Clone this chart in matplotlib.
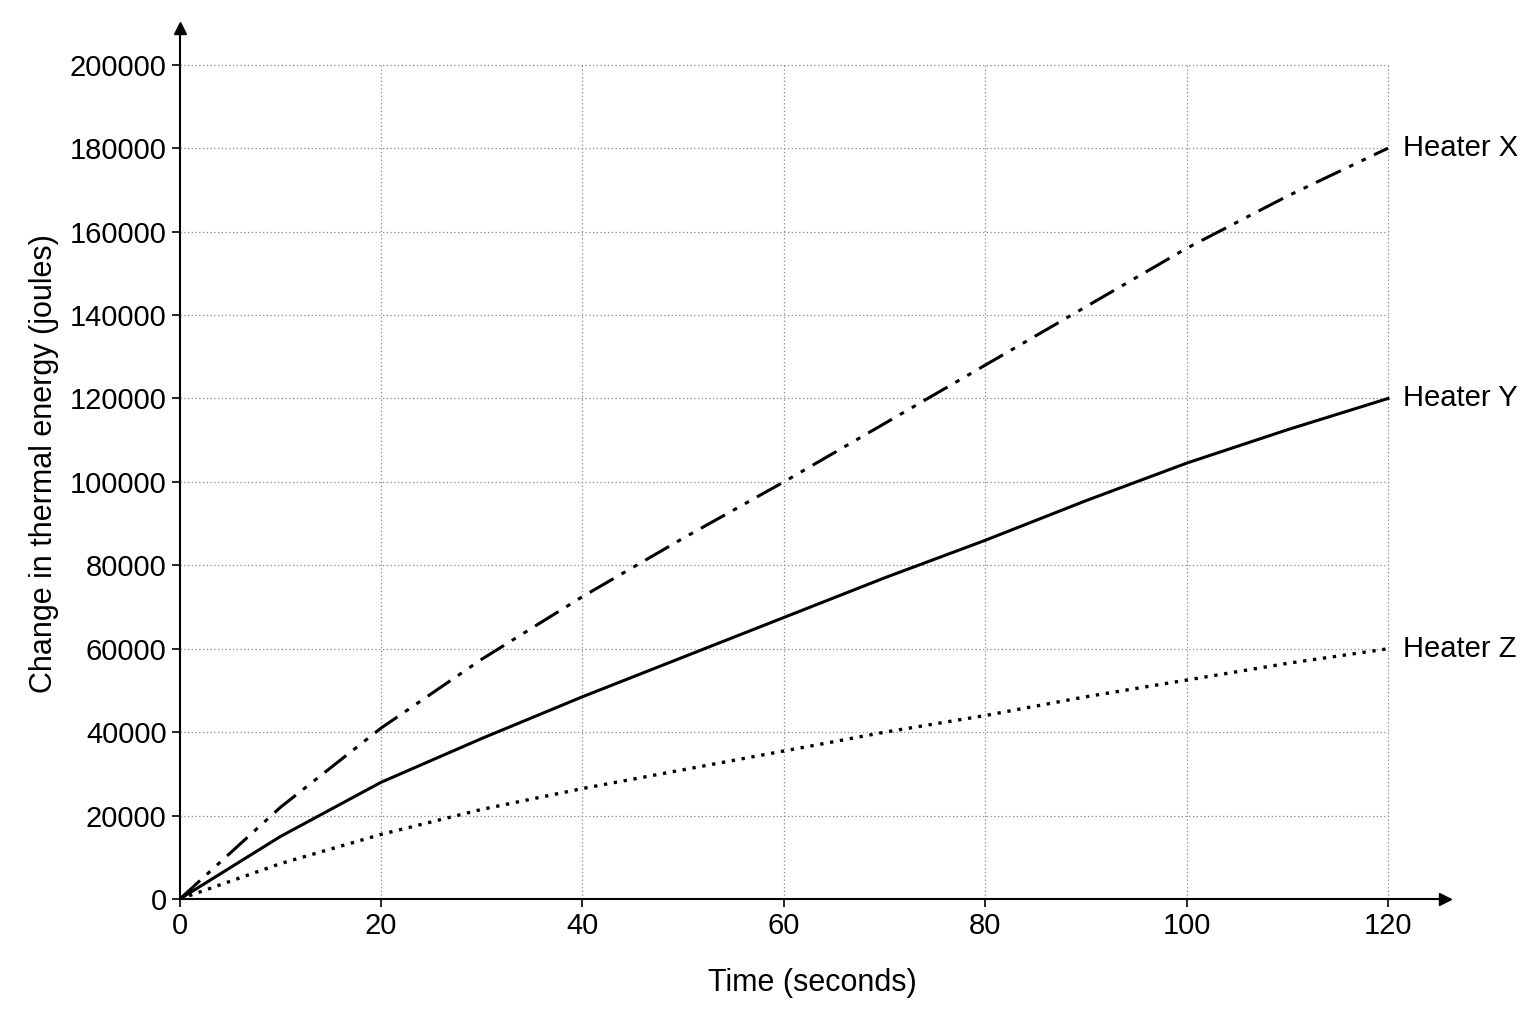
import matplotlib

matplotlib.use("Agg")

import matplotlib.pyplot as plt

plt.rcParams["font.family"] = ["Liberation Sans", "DejaVu Sans"]

time_s = [0, 10, 20, 30, 40, 50, 60, 70, 80, 90, 100, 110, 120]
heater_x = [0, 22000, 41000, 57500, 72500, 86500, 100000,
            114000, 128000, 142000, 156000, 168500, 180000]
heater_y = [0, 15000, 28000, 38500, 48500, 58000, 67500,
            77000, 86000, 95500, 104500, 112500, 120000]
heater_z = [0, 8500, 15500, 21500, 26500, 31000, 35500,
            40000, 44000, 48500, 52500, 56500, 60000]
x_ticks = [0, 20, 40, 60, 80, 100, 120]
y_ticks = list(range(0, 200001, 20000))
labels = ["Heater X", "Heater Y", "Heater Z"]

fig = plt.figure(figsize=(15.36, 10.24), dpi=100)
ax = fig.add_axes([0.117, 0.122, 0.824, 0.851])
ax.set_xlim(0, 125.7)
ax.set_ylim(0, 208900)

grid_style = dict(color="#888888", linestyle=(0, (1, 2)), linewidth=0.9, zorder=0)
ax.vlines(x_ticks[1:], 0, 200000, **grid_style)
ax.hlines(y_ticks[1:], 0, 120, **grid_style)

ax.plot(time_s, heater_x, color="black", linewidth=2.2,
        linestyle=(0, (9, 3, 1.5, 3, 1.5, 3)))
ax.plot(time_s, heater_y, color="black", linewidth=2.2)
ax.plot(time_s, heater_z, color="black", linewidth=2.4, linestyle=(0, (1, 2)))

for label, series in zip(labels, (heater_x, heater_y, heater_z)):
    ax.text(121.5, series[-1], label, va="center", ha="left", fontsize=21)

for side in ("top", "right"):
    ax.spines[side].set_visible(False)
ax.spines["left"].set_linewidth(1.5)
ax.spines["bottom"].set_linewidth(1.5)
ax.plot(1, 0, ">k", transform=ax.transAxes, clip_on=False, markersize=8)
ax.plot(0, 1, "^k", transform=ax.transAxes, clip_on=False, markersize=8)

ax.set_xticks(x_ticks)
ax.set_yticks(y_ticks)
ax.set_yticklabels([str(v) for v in y_ticks])
ax.tick_params(labelsize=21, length=6, width=1.2)
ax.set_xlabel("Time (seconds)", fontsize=22, labelpad=20)
ax.set_ylabel("Change in thermal energy (joules)", fontsize=22, labelpad=8)

fig.savefig("out.png", dpi=100, facecolor="white")
